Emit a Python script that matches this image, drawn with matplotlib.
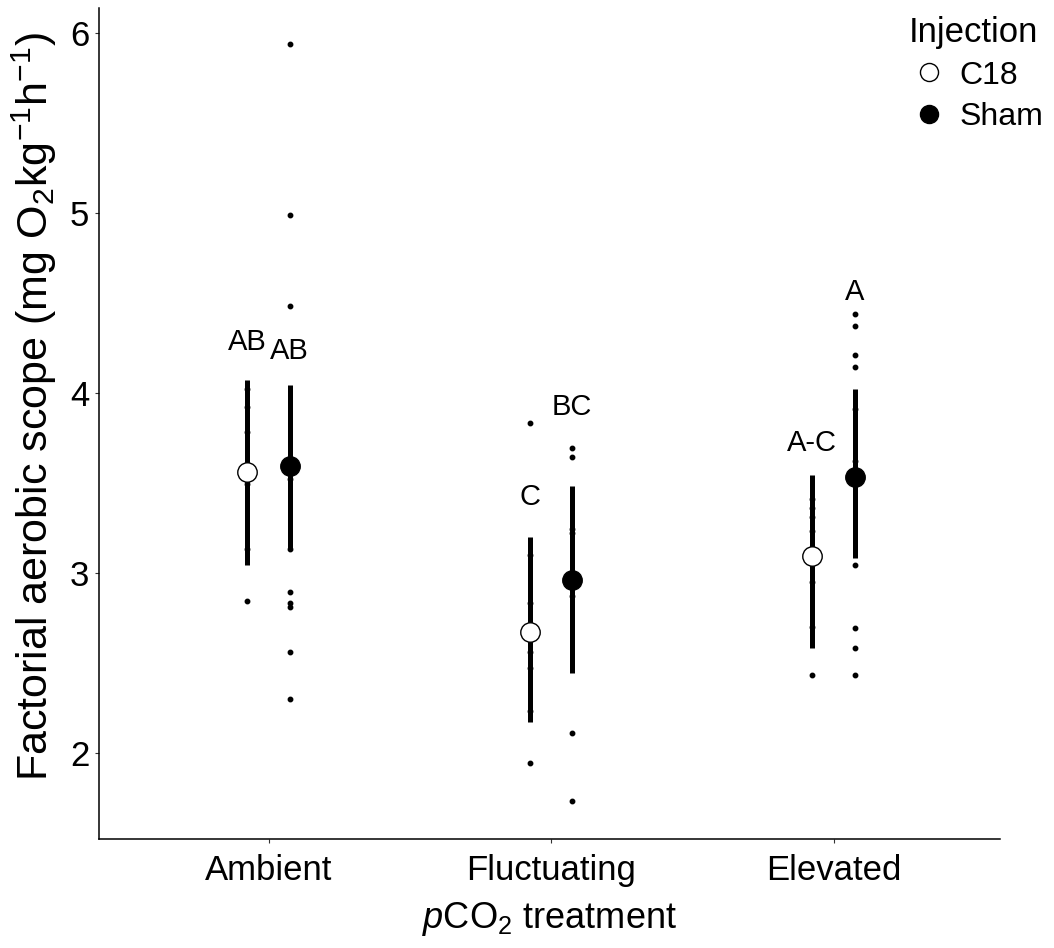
import numpy as np
import matplotlib
matplotlib.use("Agg")
import matplotlib.pyplot as plt
from matplotlib.lines import Line2D

plt.rcParams['font.family'] = ['Liberation Sans', 'DejaVu Sans']
plt.rcParams['mathtext.fontset'] = 'custom'
plt.rcParams['mathtext.rm'] = 'Liberation Sans'
plt.rcParams['mathtext.it'] = 'Liberation Sans:italic'

# treatment groups
treatments = ["Ambient", "Fluctuating", "Elevated"]

c18_points = [
    [4.02, 3.92, 3.78, 3.49, 3.13, 2.84],
    [3.83, 3.10, 2.83, 2.56, 2.47, 2.23, 1.94],
    [3.41, 3.36, 3.31, 3.23, 2.95, 2.70, 2.43],
]
sham_points = [
    [5.94, 4.99, 4.48, 3.52, 3.13, 2.89, 2.83, 2.81, 2.56, 2.30],
    [3.69, 3.64, 3.24, 3.22, 2.87, 2.11, 1.73],
    [4.44, 4.37, 4.21, 4.14, 3.91, 3.62, 3.04, 2.69, 2.58, 2.43],
]

# group means and interval limits
c18_mean = [3.56, 2.67, 3.09]
c18_low = [3.04, 2.17, 2.58]
c18_high = [4.07, 3.20, 3.54]
sham_mean = [3.59, 2.96, 3.53]
sham_low = [3.13, 2.44, 3.08]
sham_high = [4.04, 3.48, 4.02]

# significance letters and their heights
c18_letters = ["AB", "C", "A-C"]
c18_letter_y = [4.28, 3.42, 3.72]
sham_letters = ["AB", "BC", "A"]
sham_letter_y = [4.23, 3.92, 4.56]

fig = plt.figure(figsize=(10.54, 9.48), dpi=100)
ax = fig.add_axes([0.094, 0.115, 0.855, 0.877])

x = np.arange(1, len(treatments) + 1)
dodge = 0.075

groups = [
    (x - dodge, c18_points, c18_mean, c18_low, c18_high, c18_letters, c18_letter_y, 'white'),
    (x + dodge, sham_points, sham_mean, sham_low, sham_high, sham_letters, sham_letter_y, 'black'),
]

for xs, pts, mean, low, high, letters, ly, face in groups:
    for xi, p in zip(xs, pts):
        ax.plot(np.full(len(p), xi), p, 'o', color='black', markersize=3.2, zorder=2)
    mean = np.array(mean)
    yerr = [mean - np.array(low), np.array(high) - mean]
    ax.errorbar(xs, mean, yerr=yerr, fmt='none', ecolor='black', elinewidth=3.6,
                capsize=0, zorder=3)
    ax.plot(xs, mean, 'o', markersize=14, markerfacecolor=face,
            markeredgecolor='black', markeredgewidth=1.0, linestyle='none', zorder=4)
    for xi, yi, t in zip(xs, ly, letters):
        ax.text(xi, yi, t, ha='center', va='center', fontsize=21)

ax.set_xlim(0.40, 3.59)
ax.set_ylim(1.52, 6.14)
ax.set_xticks(x)
ax.set_xticklabels(treatments)
ax.set_yticks([2, 3, 4, 5, 6])
ax.tick_params(labelsize=25, length=3, width=0.8, colors='#333333', labelcolor='black', pad=4)
ax.tick_params(axis='x', pad=8)
for side in ['top', 'right']:
    ax.spines[side].set_visible(False)
for side in ['left', 'bottom']:
    ax.spines[side].set_linewidth(1.1)
    ax.spines[side].set_color('black')

ax.set_xlabel(r'$\it{p}$CO$_2$ treatment', fontsize=26, labelpad=9)
ax.set_ylabel(r'Factorial aerobic scope (mg O$_2$kg$^{-1}$h$^{-1}$)', fontsize=31)
ax.yaxis.set_label_coords(-0.045, 0.52)

handles = [
    Line2D([], [], marker='o', linestyle='none', markersize=13, markerfacecolor='white',
           markeredgecolor='black', markeredgewidth=1.0),
    Line2D([], [], marker='o', linestyle='none', markersize=13, markerfacecolor='black',
           markeredgecolor='black'),
]
leg = fig.legend(handles, ['C18', 'Sham'], title='Injection', loc='upper right',
                 bbox_to_anchor=(1.008, 1.003), frameon=False, fontsize=23,
                 title_fontsize=25, handletextpad=0.3, borderaxespad=0.2,
                 labelspacing=0.35, handlelength=1.3)
leg._legend_box.align = 'left'

fig.savefig('out.png', dpi=100)
